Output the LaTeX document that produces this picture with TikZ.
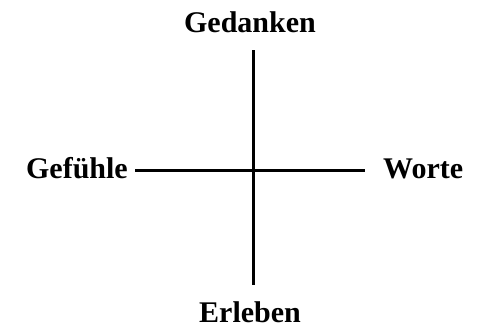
\documentclass[tikz,border=0pt]{standalone}
\usepackage{fontspec}
\setmainfont{Liberation Serif}
\usepackage{tikz}
\usetikzlibrary{positioning}

\tikzset{
  pole/.style={font=\fontsize{30}{35}\selectfont\bfseries, inner sep=0pt},
  axisline/.style={line width=3pt}
}

\begin{document}
\begin{tikzpicture}[x=1pt, y=1pt]
  % Frame
  \useasboundingbox (0,0) rectangle (479,333);

  % Axis ends
  \coordinate (top) at (253,283);
  \coordinate (bottom) at (253,48);
  \coordinate (left) at (135,163);
  \coordinate (right) at (365,163);

  % Axes
  \draw[axisline] (top) -- (bottom);
  \draw[axisline] (left) -- (right);

  % Labels
  \node[pole, anchor=base] (gedanken) at (250,301) {Gedanken};
  \node[pole, anchor=base east] (gefuehle) at (128,155) {Gefühle};
  \node[pole, anchor=base west] (worte) at (383,155) {Worte};
  \node[pole, anchor=base] (erleben) at (250,11) {Erleben};
\end{tikzpicture}
\end{document}
